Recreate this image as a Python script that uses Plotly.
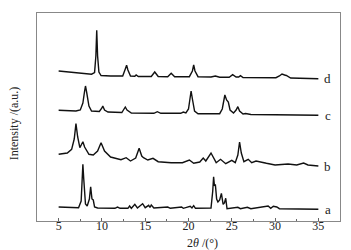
import plotly.graph_objects as go

# Series (2θ in degrees, displayed intensity in arbitrary stacked units)
a_x = [5, 7.3, 7.6, 7.75, 7.8, 7.9, 8.1, 8.3, 8.55, 8.7, 8.85, 9.0, 9.15, 9.5, 11.5, 11.8, 12.1, 13.0, 13.2, 13.4,
       13.8, 14.1, 14.7, 15.0, 15.4, 15.55, 15.7, 16.0, 17.6, 17.9, 19.2, 19.4, 20.2, 20.4, 20.6, 20.8, 22.0, 22.6,
       22.8, 22.9, 23.0, 23.1, 23.25, 23.4, 23.6, 23.8, 24.0, 24.15, 24.3, 24.45, 25.7, 26.0, 26.8, 27.2, 29.2, 29.5,
       29.8, 30.2, 30.5, 32.7, 34.3, 35]
a_y = [14, 13.3, 20, 50, 56.7, 42, 17, 15, 22, 34.3, 22, 21, 14, 13, 12.7, 14, 12.7, 12.7, 15, 12.7,
       16.7, 13, 17.3, 13.3, 15.7, 13.5, 16, 13, 14, 12.7, 14, 12.7, 14.7, 13, 15.3, 12.7, 13.3, 13,
       30, 44.3, 35, 36.7, 22, 19, 21, 27.7, 16.7, 18, 22.7, 12.3, 13.7, 12.3, 13.7, 12.3, 15, 12.7,
       14.7, 14, 12.3, 12.3, 12.3, 11.7]

b_x = [5, 6, 6.5, 6.8, 7.0, 7.2, 7.45, 7.65, 7.8, 8.0, 8.5, 9.0, 9.5, 9.9, 10.3, 11.0, 12.2, 12.8, 13.3, 13.9,
       14.3, 14.6, 14.8, 15.3, 15.9, 16.5, 18, 19.3, 20.1, 20.6, 21.3, 21.7, 22.0, 22.6, 23.2, 23.7, 24.3, 25.0,
       25.4, 25.7, 25.9, 26.1, 26.4, 26.9, 27.3, 27.8, 28.5, 29.0, 30, 31.5, 32.5, 33.3, 33.8, 35]
b_y = [66.7, 68, 71.7, 82, 97.3, 84, 73.3, 76, 79.3, 74, 66.7, 66, 70, 78.3, 70, 64, 61.3, 63.3, 60, 63,
       72.7, 65, 63.3, 61, 62.7, 59.3, 58.3, 58.3, 61, 57.7, 59, 63, 60, 68, 58.3, 61.7, 57.3, 60.7,
       58.3, 66, 79, 68, 59.3, 61.7, 58.3, 60, 58.3, 57.7, 56, 57, 56, 58, 56, 55]

c_x = [5, 6, 7, 7.5, 7.8, 8.0, 8.1, 8.25, 8.5, 8.8, 9.7, 10.0, 10.1, 10.3, 10.7, 12.3, 12.6, 12.7, 12.9, 13.4,
       16.0, 16.4, 16.8, 19.1, 19.4, 19.7, 20.0, 20.2, 20.3, 20.45, 20.7, 21.1, 23.6, 23.9, 24.1, 24.2, 24.4,
       24.6, 24.8, 25.2, 25.5, 25.7, 25.9, 26.3, 26.6, 27.2, 30, 35]
c_y = [110.7, 110.5, 110, 111, 118, 130, 135, 128, 115, 110, 109.5, 113, 115, 111, 109, 108.5, 112, 114, 111, 108,
       107.7, 109.3, 107.7, 107.7, 109, 108, 112, 125, 130, 122, 110, 107.3, 107.3, 112, 123, 126, 121,
       119, 111, 108, 111, 114.3, 110, 107, 107.5, 106.5, 106.3, 105.7]

d_x = [5, 6, 7, 8, 8.8, 9.15, 9.3, 9.4, 9.5, 9.65, 9.9, 11, 12.4, 12.7, 12.85, 13.0, 13.3, 13.8, 13.95, 14.2,
       15.7, 16.1, 16.5, 17.6, 18.0, 18.4, 20.1, 20.45, 20.6, 20.75, 21.1, 22.6, 23.1, 23.6, 24.7, 25.1, 25.5,
       25.8, 26.0, 26.3, 30.1, 30.5, 30.8, 31.1, 31.3, 31.8, 33, 35]
d_y = [150, 149, 148, 147.3, 146.8, 148.5, 165, 190.7, 165, 149, 145.5, 145, 145, 152, 155.7, 151, 145, 144.8, 146, 144.5,
       144.5, 149, 144.5, 144.3, 147.7, 144.3, 144.3, 150, 156, 150, 144.3, 144, 145, 143.8, 143.8, 146.3, 144,
       144, 145.3, 143.5, 143.3, 145, 147, 146, 145.5, 143, 142.8, 142.3]

series_names = ["a", "b", "c", "d"]
series_x = [a_x, b_x, c_x, d_x]
series_y = [a_y, b_y, c_y, d_y]

x_ticks = [5, 10, 15, 20, 25, 30, 35]

FONT = "Liberation Serif, Times New Roman, serif"
TXT = "#222222"

fig = go.Figure()
for name, xs, ys in zip(series_names, series_x, series_y):
    fig.add_trace(go.Scatter(x=xs, y=ys, mode="lines", name=name,
                             line=dict(color="#111111", width=1.4), showlegend=False))
    fig.add_annotation(x=36.1, y=ys[-1], xref="x", yref="y", text=name, showarrow=False,
                       xanchor="center", yanchor="middle",
                       font=dict(family=FONT, size=13, color=TXT))

# axis titles placed as annotations
fig.add_annotation(x=0.545, y=-0.106, xref="paper", yref="paper", text="2<i>θ</i> /(°)",
                   showarrow=False, xanchor="center", yanchor="middle",
                   font=dict(family=FONT, size=12, color=TXT))
fig.add_annotation(x=-0.075, y=0.471, xref="paper", yref="paper", text="Intensity /(a.u.)",
                   showarrow=False, xanchor="center", yanchor="middle", textangle=-90,
                   font=dict(family=FONT, size=12, color=TXT))

fig.update_layout(
    width=351, height=250,
    margin=dict(l=29, r=19, t=5, b=37),
    paper_bgcolor="white", plot_bgcolor="white",
    font=dict(family=FONT, size=12, color=TXT),
    xaxis=dict(range=[2.5, 37.5], tickvals=x_ticks, ticktext=[str(v) for v in x_ticks],
               ticks="inside", ticklen=3, tickcolor="#666666", tickwidth=1,
               minor=dict(ticks="inside", dtick=2.5, tick0=0, ticklen=2, tickcolor="#666666"),
               showline=True, linecolor="#888888", linewidth=1, mirror=True,
               showgrid=False, zeroline=False, ticklabelstandoff=-6,
               tickfont=dict(family=FONT, size=12, color=TXT)),
    yaxis=dict(range=[0, 208], showticklabels=False, ticks="",
               showline=True, linecolor="#888888", linewidth=1, mirror=True,
               showgrid=False, zeroline=False),
)

fig.write_html("out.html")
